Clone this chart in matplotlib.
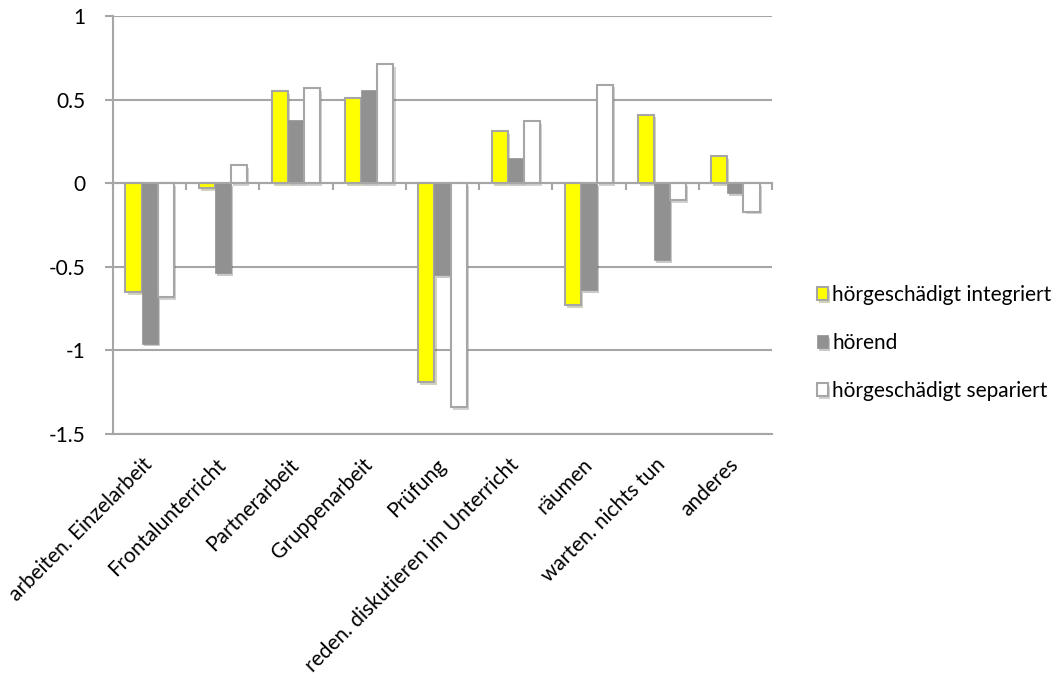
import numpy as np
import matplotlib.pyplot as plt
import matplotlib.patheffects as pe

# daten
kategorien = ["arbeiten. Einzelarbeit", "Frontalunterricht", "Partnerarbeit",
              "Gruppenarbeit", "Prüfung", "reden. diskutieren im Unterricht",
              "räumen", "warten. nichts tun", "anderes"]
integriert = [-0.65, -0.03, 0.55, 0.51, -1.19, 0.31, -0.73, 0.41, 0.16]
hoerend = [-0.96, -0.54, 0.38, 0.56, -0.55, 0.15, -0.64, -0.46, -0.06]
separiert = [-0.68, 0.11, 0.57, 0.71, -1.34, 0.37, 0.59, -0.10, -0.17]
serien = ["hörgeschädigt integriert", "hörend", "hörgeschädigt separiert"]

plt.rcParams['font.family'] = ['Lato', 'DejaVu Sans']
grau = '#a6a6a6'

fig = plt.figure(figsize=(10.63, 6.77), dpi=100)
ax = fig.add_axes([113/1063, 1-434/677, (772-113)/1063, (434-16)/677])

x = np.arange(len(kategorien))
w = 0.22
schatten = [pe.SimplePatchShadow(offset=(1.5, -2), alpha=0.25), pe.Normal()]
b1 = ax.bar(x - w, integriert, w, color='#ffff00', edgecolor=grau, linewidth=1.5, label=serien[0], zorder=3)
b2 = ax.bar(x, hoerend, w, color='#919191', edgecolor='#919191', linewidth=0.5, label=serien[1], zorder=3)
b3 = ax.bar(x + w, separiert, w, color='white', edgecolor=grau, linewidth=1.5, label=serien[2], zorder=3)
for bars in (b1, b2, b3):
    for p in bars:
        p.set_path_effects(schatten)

ax.set_xlim(-0.5, len(kategorien) - 0.5)
ax.set_ylim(-1.5, 1)
ax.set_yticks([-1.5, -1, -0.5, 0, 0.5, 1])
ax.set_yticklabels(['-1.5', '-1', '-0.5', '0', '0.5', '1'])
ax.yaxis.grid(True, color=grau, linewidth=1.5, zorder=0)
ax.set_axisbelow(True)
ax.tick_params(axis='y', length=6, width=1.5, color=grau, pad=14, labelsize=15)

for s in ['top', 'right']:
    ax.spines[s].set_visible(False)
ax.spines['left'].set_color(grau)
ax.spines['left'].set_linewidth(1.5)

# nulllinie mit ticks an den grenzen
ax.spines['bottom'].set_position(('data', 0))
ax.spines['bottom'].set_color(grau)
ax.spines['bottom'].set_linewidth(1.5)
ax.spines['bottom'].set_zorder(4)
ax.set_xticks(np.arange(len(kategorien) + 1) - 0.5)
ax.tick_params(axis='x', length=5, width=1.5, color=grau, labelbottom=False)

sec = ax.secondary_xaxis('bottom')
sec.set_xticks(x)
sec.set_xticklabels(kategorien, rotation=45, ha='right', va='center',
                    rotation_mode='anchor', fontsize=15)
sec.tick_params(length=0, pad=20)
sec.spines['bottom'].set_color(grau)
sec.spines['bottom'].set_linewidth(1.5)

leg = fig.legend(handles=[b1, b2, b3], loc='center left', bbox_to_anchor=(798/1063, 1-343/677),
                 frameon=False, fontsize=15, handlelength=0.55, handleheight=0.55,
                 handletextpad=0.2, labelspacing=1.35)

plt.savefig('out.png', dpi=100)
